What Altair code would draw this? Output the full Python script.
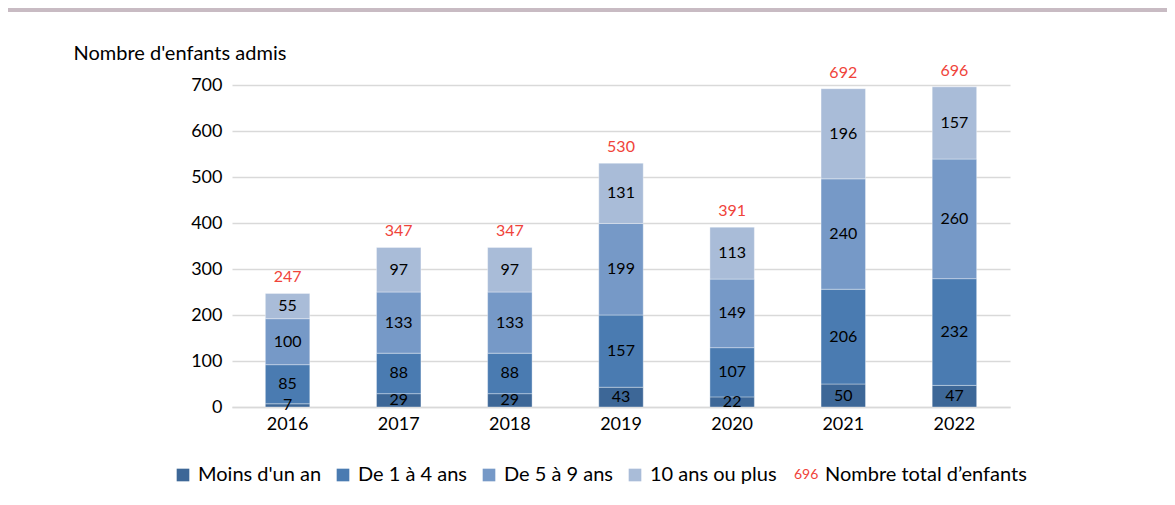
import altair as alt
import pandas as pd

years = ["2016", "2017", "2018", "2019", "2020", "2021", "2022"]
categories = ["Moins d'un an", "De 1 à 4 ans", "De 5 à 9 ans", "10 ans ou plus"]
moins_un_an = [7, 29, 29, 43, 22, 50, 47]
de_1_a_4 = [85, 88, 88, 157, 107, 206, 232]
de_5_a_9 = [100, 133, 133, 199, 149, 240, 260]
dix_et_plus = [55, 97, 97, 131, 113, 196, 157]
totals = [247, 347, 347, 530, 391, 692, 696]
colors = ["#3d6797", "#4a7bb1", "#7699c7", "#a9bcd8"]
y_ticks = [0, 100, 200, 300, 400, 500, 600, 700]

FONT = "Lato"
RED = "#f0433a"

series = [moins_un_an, de_1_a_4, de_5_a_9, dix_et_plus]
rows = []
for ci, (cat, vals) in enumerate(zip(categories, series)):
    for y, v in zip(years, vals):
        rows.append({"year": y, "cat": cat, "order": ci, "value": v})
df = pd.DataFrame(rows)
df_tot = pd.DataFrame({"year": years, "total": totals})
df_one = pd.DataFrame({"k": [0]})

W, H = 778, 322

x_enc = alt.X(
    "year:N",
    sort=years,
    scale=alt.Scale(paddingInner=0.6, paddingOuter=0.3),
    axis=alt.Axis(
        title=None, labelAngle=0, labelFont=FONT, labelFontSize=18,
        labelColor="#000000", labelPadding=8, ticks=False,
        domain=True, domainColor="#d9d9d9", domainWidth=1.5, grid=False,
    ),
)
y_scale = alt.Scale(domain=[0, 700], nice=False)

bars = alt.Chart(df).mark_bar(stroke="#ffffff", strokeWidth=0.6, strokeOpacity=0.6).encode(
    x=x_enc,
    y=alt.Y(
        "value:Q", stack="zero", scale=y_scale,
        axis=alt.Axis(
            values=y_ticks, grid=True, gridColor="#d9d9d9", gridWidth=1.5,
            domain=False, ticks=False, labelFont=FONT, labelFontSize=18,
            labelColor="#000000", labelPadding=10,
            title="Nombre d'enfants admis", titleAngle=0, titleAlign="left",
            titleX=-159, titleY=-32, titleBaseline="middle", titleFont=FONT,
            titleFontSize=20, titleFontWeight="normal", titleColor="#000000",
        ),
    ),
    color=alt.Color(
        "cat:N",
        scale=alt.Scale(domain=categories, range=colors),
        legend=alt.Legend(
            orient="none", legendX=-59, legendY=380, direction="horizontal",
            title=None, symbolType="square", symbolSize=160, symbolStrokeWidth=0,
            symbolOpacity=1, labelFont=FONT, labelFontSize=20, labelColor="#000000",
            columnPadding=11, labelOffset=5,
        ),
    ),
    order=alt.Order("order:Q", sort="ascending"),
)

seg_text = alt.Chart(df).transform_stack(
    stack="value", groupby=["year"], as_=["y0", "y1"],
    sort=[alt.SortField("order", order="ascending")],
).transform_calculate(
    mid="(datum.y0 + datum.y1) / 2"
).mark_text(font=FONT, fontSize=16, color="#000000", baseline="middle").encode(
    x=alt.X("year:N", sort=years),
    y=alt.Y("mid:Q", scale=y_scale),
    text=alt.Text("value:Q"),
)

tot_text = alt.Chart(df_tot).mark_text(
    font=FONT, fontSize=16, color=RED, baseline="bottom", dy=-8
).encode(
    x=alt.X("year:N", sort=years),
    y=alt.Y("total:Q", scale=y_scale),
    text=alt.Text("total:Q"),
)

leg_num = alt.Chart(df_one).mark_text(
    font=FONT, fontSize=14, color=RED, align="left", baseline="middle"
).encode(x=alt.value(562), y=alt.value(390), text=alt.value("696"))

leg_lab = alt.Chart(df_one).mark_text(
    font=FONT, fontSize=20, color="#000000", align="left", baseline="middle"
).encode(x=alt.value(593), y=alt.value(390), text=alt.value("Nombre total d\u2019enfants"))

band = alt.Chart(df_one).mark_rule(color="#c8bbc3", strokeWidth=4).encode(
    x=alt.value(-240), x2=alt.value(1000), y=alt.value(-75)
)

chart = alt.layer(band, bars, seg_text, tot_text, leg_num, leg_lab).properties(
    width=W, height=H,
    padding={"left": 224, "top": 77, "right": 157, "bottom": 85},
    autosize=alt.AutoSizeParams(type="none"),
    background="#ffffff",
).configure_view(stroke=None)

chart.save("out.html", embed_options={"renderer": "svg", "actions": False})
